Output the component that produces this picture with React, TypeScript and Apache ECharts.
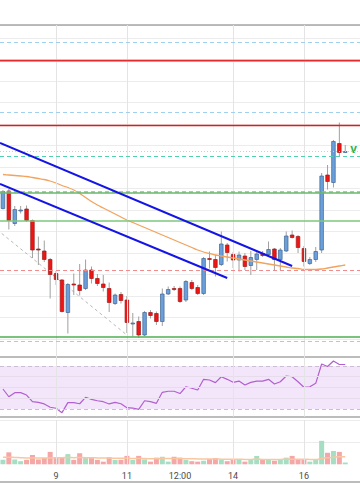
import React, { useEffect, useRef } from 'react';
import * as echarts from 'echarts';

// ---- data (4h candles, 61 slots, 59 filled) ----
const slotCount = 61;
const openP = [1680,1715,1650,1676,1679,1656,1599,1595,1578,1550, 1537,1472,1529,1527,1520,1557,1540,1529,1520,1490, 1508,1497,1450,1454,1427,1472,1470,1454,1509,1520, 1520,1497,1532,1522,1510,1580,1578,1568,1607,1588, 1577,1585,1566,1578,1590,1588,1599,1578,1595,1627, 1624,1600,1570,1578,1597,1747,1732,1810,1792];
const closeP = [1714,1656,1678,1677,1656,1597,1597,1578,1548,1538, 1474,1528,1527,1516,1557,1540,1530,1522,1492,1507, 1496,1452,1451,1427,1472,1466,1454,1509,1518,1519, 1494,1534,1520,1510,1580,1579,1562,1609,1592,1577, 1587,1564,1582,1589,1586,1598,1578,1597,1625,1622, 1602,1574,1578,1594,1745,1734,1814,1792,1794];
const lowP = [1678,1638,1645,1670,1653,1581,1567,1573,1500,1527, 1472,1430,1507,1506,1517,1530,1525,1514,1473,1487, 1490,1431,1424,1421,1425,1460,1447,1445,1507,1515, 1491,1493,1517,1507,1507,1560,1544,1565,1574,1561, 1554,1557,1547,1557,1583,1585,1557,1557,1593,1620, 1591,1564,1567,1573,1591,1718,1722,1784,1791];
const highP = [1717,1719,1685,1685,1686,1658,1624,1616,1581,1555, 1539,1531,1550,1569,1578,1564,1549,1547,1532,1510, 1513,1505,1471,1464,1475,1477,1474,1520,1524,1525, 1524,1537,1537,1527,1583,1594,1587,1634,1611,1593, 1594,1591,1595,1593,1595,1614,1601,1601,1634,1636, 1627,1605,1583,1603,1751,1767,1817,1852,1807];
const maValues = [1748,1747,1746,1745,1744,1742,1740,1738,1735,1731, 1726,1722,1717,1710,1702,1694,1687,1681,1675,1669, 1663,1657,1652,1647,1642,1637,1632,1627,1622,1617, 1612,1607,1602,1597,1593,1590,1587,1585,1583,1581, 1579,1577,1575,1573,1571,1569,1567,1565,1563,1561, 1560,1558,1558,1558,1559,1561,1563,1565,1567];
const rsiValues = [48.6,41.4,45.2,45.2,43.0,36.8,36.2,34.7,31.6,30.7, 26.6,35.9,35.9,34.9,40.9,39.0,37.7,36.8,34.7,36.2, 34.9,31.2,30.9,29.7,37.7,36.8,35.3,45.5,46.5,46.5, 44.4,50.7,49.3,47.7,57.6,57.0,54.5,60.0,57.6,54.8, 56.0,52.3,54.8,56.0,56.0,57.6,53.3,55.4,60.7,60.0, 55.4,50.2,50.7,53.9,71.9,69.5,74.7,71.4,71.4];
const volumeValues = [10,27,11,7,10,21,11,14,28,16, 15,23,10,25,14,14,10,6,16,10, 10,19,10,19,11,6,15,17,6,17, 15,10,7,6,8,12,14,11,7,10, 10,6,10,19,10,11,8,11,15,19, 11,10,6,10,53,26,30,28,4];
const volumeMa = [16,16,15.5,15,14.5,14.5,14,14,14.5,15, 15,15.5,15,15.5,15,15,14.5,14,14,13.5, 13.5,13.5,13,13,13,12.5,12.5,13,13,13, 13,12.5,12.5,12,12,12,12,11.5,11.5,11.5, 11.5,11,11,11.5,11,11,11,11,11.5,11.5, 11.5,11.5,11,11,13,14.5,16,17,17];

const labelIndex = [9, 21, 30, 39, 51];
const labelText = ['9', '11', '12:00', '14', '16'];
const dayLineIndex = [9, 21, 39, 51];

const levelPrices = [2012, 1975, 1977, 1872, 1846, 1794, 1785, 1714, 1711, 1655, 1557, 1424, 1415];
const trendUpper = [[-0.5, 1811], [49, 1565]];
const trendLower = [[-0.5, 1729], [38, 1541]];
const diagonalDash = [[-0.2, 1630], [21, 1427]];
const rsiBand = [30, 70];
const rsiGuides = [40, 50, 60];

// ---- styles ----
const levelStyles = [
  { color: '#9fd0f0', width: 1, type: [4, 3] },
  { color: '#f6a9a9', width: 2, type: 'solid' },
  { color: '#e52b2b', width: 1.3, type: 'solid' },
  { color: '#9fd0f0', width: 1, type: [4, 3] },
  { color: '#d91e1e', width: 1.3, type: 'solid' },
  { color: '#b8d2f0', width: 1, type: [1, 2] },
  { color: '#4fd1b0', width: 1, type: [4, 3] },
  { color: '#a9a9a9', width: 1.5, type: [4, 3] },
  { color: '#66bb6a', width: 1.5, type: 'solid' },
  { color: '#7dc97d', width: 1.5, type: 'solid' },
  { color: '#f28b8b', width: 1, type: [4, 3] },
  { color: '#4caf50', width: 1.5, type: 'solid' },
  { color: '#c4c4c4', width: 1, type: [4, 3] },
];

const slots = Array.from({ length: slotCount }, (_, i) => String(i));
const gridLineColor = '#ececec';
const dayLineColor = '#e4e4e4';
const paneLine = { show: true, onZero: false, lineStyle: { color: '#a6a6a6', width: 1.5 } };

const catAxis = (gridIndex: number, extra: any = {}) => ({
  type: 'category',
  gridIndex,
  data: slots,
  boundaryGap: true,
  axisTick: { show: false },
  axisLabel: { show: false },
  splitLine: { show: false },
  axisLine: { show: false, onZero: false },
  ...extra,
});

const hiddenY = { axisLabel: { show: false }, axisTick: { show: false }, axisLine: { show: false } };

function buildOption() {
  const candleData = openP.map((o, i) => [i, o, closeP[i], lowP[i], highP[i]]);
  const volData = volumeValues.map((v, i) => ({
    value: v,
    itemStyle: { color: closeP[i] >= openP[i] ? '#a6dec4' : '#f5a6a6' },
  }));
  const dayLines = dayLineIndex.map((d) => ({ xAxis: d }));

  return {
    animation: false,
    backgroundColor: '#ffffff',
    textStyle: { fontFamily: 'Roboto' },
    grid: [
      { left: 0, right: 0, top: 25, bottom: 143.5 },
      { left: 0, right: 0, top: 357, bottom: 87.3 },
      { left: 0, right: 0, top: 420, bottom: 39.7 },
    ],
    xAxis: [
      catAxis(0, { position: 'top', axisLine: paneLine }),
      { type: 'value', gridIndex: 0, min: -0.5, max: 60.5, show: false },
      catAxis(1, { position: 'top', axisLine: paneLine }),
      catAxis(1, { position: 'bottom', axisLine: paneLine }),
      catAxis(2, {
        position: 'bottom',
        axisLabel: {
          show: true,
          interval: (idx: number) => labelIndex.includes(idx),
          formatter: (_v: string, idx: number) => {
            const k = labelIndex.indexOf(idx);
            return k >= 0 ? labelText[k] : '';
          },
          fontSize: 9,
          color: '#4a4a4a',
          margin: 7,
          fontFamily: 'Roboto',
        },
      }),
      catAxis(2, { position: 'bottom', offset: 17.7, axisLine: paneLine }),
    ],
    yAxis: [
      {
        type: 'value', gridIndex: 0, min: 1376, max: 2047, interval: 43, ...hiddenY,
        splitLine: { show: true, showMinLine: false, lineStyle: { color: gridLineColor, width: 1 } },
      },
      { type: 'value', gridIndex: 1, min: 22.84, max: 78.37, ...hiddenY, splitLine: { show: false } },
      {
        type: 'value', gridIndex: 2, min: 0, max: 100, interval: 50, ...hiddenY,
        splitLine: { show: true, showMinLine: false, lineStyle: { color: gridLineColor, width: 1 } },
      },
    ],
    series: [
      {
        name: 'diag',
        type: 'line',
        xAxisIndex: 1,
        yAxisIndex: 0,
        z: 1,
        data: diagonalDash,
        showSymbol: false,
        lineStyle: { color: '#b8b8b8', width: 1, type: [3, 3] },
        silent: true,
        markLine: {
          silent: true, symbol: 'none', label: { show: false },
          lineStyle: { color: dayLineColor, width: 1, type: 'solid' },
          data: dayLines,
        },
      },
      {
        name: 'candles',
        type: 'custom',
        xAxisIndex: 0,
        yAxisIndex: 0,
        z: 3,
        encode: { x: 0, y: [1, 2, 3, 4] },
        data: candleData,
        renderItem: (_params: any, api: any) => {
          const i = api.value(0);
          const o = api.value(1);
          const c = api.value(2);
          const l = api.value(3);
          const h = api.value(4);
          const pO = api.coord([i, o]);
          const pC = api.coord([i, c]);
          const pL = api.coord([i, l]);
          const pH = api.coord([i, h]);
          const x = pO[0];
          const w = 3.6;
          const bull = c >= o;
          const top = Math.min(pO[1], pC[1]);
          const bh = Math.max(Math.abs(pO[1] - pC[1]), 1);
          return {
            type: 'group',
            children: [
              { type: 'line', shape: { x1: x, y1: pH[1], x2: x, y2: pL[1] }, style: { stroke: '#a0a0a0', lineWidth: 1 } },
              {
                type: 'rect',
                shape: { x: x - w / 2, y: top, width: w, height: bh },
                style: {
                  fill: bull ? '#6a9fdb' : '#f01414',
                  stroke: bull ? '#3f6690' : '#9a1c1c',
                  lineWidth: 0.7,
                },
              },
            ],
          };
        },
      },
      {
        name: 'MA',
        type: 'line',
        xAxisIndex: 0,
        yAxisIndex: 0,
        z: 4,
        data: maValues,
        showSymbol: false,
        smooth: 0.3,
        lineStyle: { color: '#f2a35e', width: 1.3 },
        silent: true,
        markLine: {
          silent: true, symbol: 'none', label: { show: false },
          data: levelPrices.map((p, k) => ({ yAxis: p, lineStyle: levelStyles[k] })),
        },
      },
      {
        name: 'trendUpper',
        type: 'line',
        xAxisIndex: 1,
        yAxisIndex: 0,
        z: 5,
        data: trendUpper,
        showSymbol: false,
        silent: true,
        lineStyle: { color: '#1414e6', width: 2 },
      },
      {
        name: 'trendLower',
        type: 'line',
        xAxisIndex: 1,
        yAxisIndex: 0,
        z: 5,
        data: trendLower,
        showSymbol: false,
        silent: true,
        lineStyle: { color: '#1414e6', width: 2 },
      },
      {
        name: 'RSI',
        type: 'line',
        xAxisIndex: 2,
        yAxisIndex: 1,
        z: 3,
        data: rsiValues,
        showSymbol: false,
        silent: true,
        lineStyle: { color: '#b25fcf', width: 1.2 },
        markArea: {
          silent: true,
          itemStyle: { color: '#f3e6fb' },
          data: [[{ yAxis: rsiBand[0] }, { yAxis: rsiBand[1] }]],
        },
        markLine: {
          silent: true, symbol: 'none', label: { show: false },
          data: [
            ...rsiBand.map((v) => ({ yAxis: v, lineStyle: { color: '#c9bfd0', width: 1, type: [4, 3] } })),
            ...rsiGuides.map((v) => ({ yAxis: v, lineStyle: { color: '#e6dcec', width: 1, type: 'solid' } })),
            ...dayLineIndex.map((d) => ({ xAxis: d, lineStyle: { color: dayLineColor, width: 1, type: 'solid' } })),
          ],
        },
      },
      {
        name: 'dayLinesVol',
        type: 'line',
        xAxisIndex: 4,
        yAxisIndex: 2,
        z: 1,
        data: [],
        silent: true,
        markLine: {
          silent: true, symbol: 'none', label: { show: false },
          lineStyle: { color: dayLineColor, width: 1, type: 'solid' },
          data: dayLines,
        },
      },
      {
        name: 'Volume',
        type: 'bar',
        xAxisIndex: 4,
        yAxisIndex: 2,
        z: 2,
        data: volData,
        barCategoryGap: '15%',
        silent: true,
      },
      {
        name: 'VolMA',
        type: 'line',
        xAxisIndex: 4,
        yAxisIndex: 2,
        z: 3,
        data: volumeMa,
        showSymbol: false,
        smooth: 0.3,
        silent: true,
        lineStyle: { color: '#f9c6a0', width: 1.5 },
      },
    ],
    graphic: [
      {
        type: 'text',
        left: 350,
        top: 144,
        silent: true,
        style: { text: 'V', fill: '#2db34a', font: 'bold 11px Roboto' },
      },
    ],
  };
}

export default function App() {
  const ref = useRef<HTMLDivElement>(null);
  useEffect(() => {
    document.body.style.margin = '0';
    if (!ref.current) return;
    const chart = echarts.init(ref.current, null, { renderer: 'svg' });
    chart.setOption(buildOption() as any);
    return () => chart.dispose();
  }, []);
  return (
    <div
      ref={ref}
      style={{ position: 'fixed', left: 0, top: 0, width: 360, height: 504, background: '#fff' }}
    />
  );
}
